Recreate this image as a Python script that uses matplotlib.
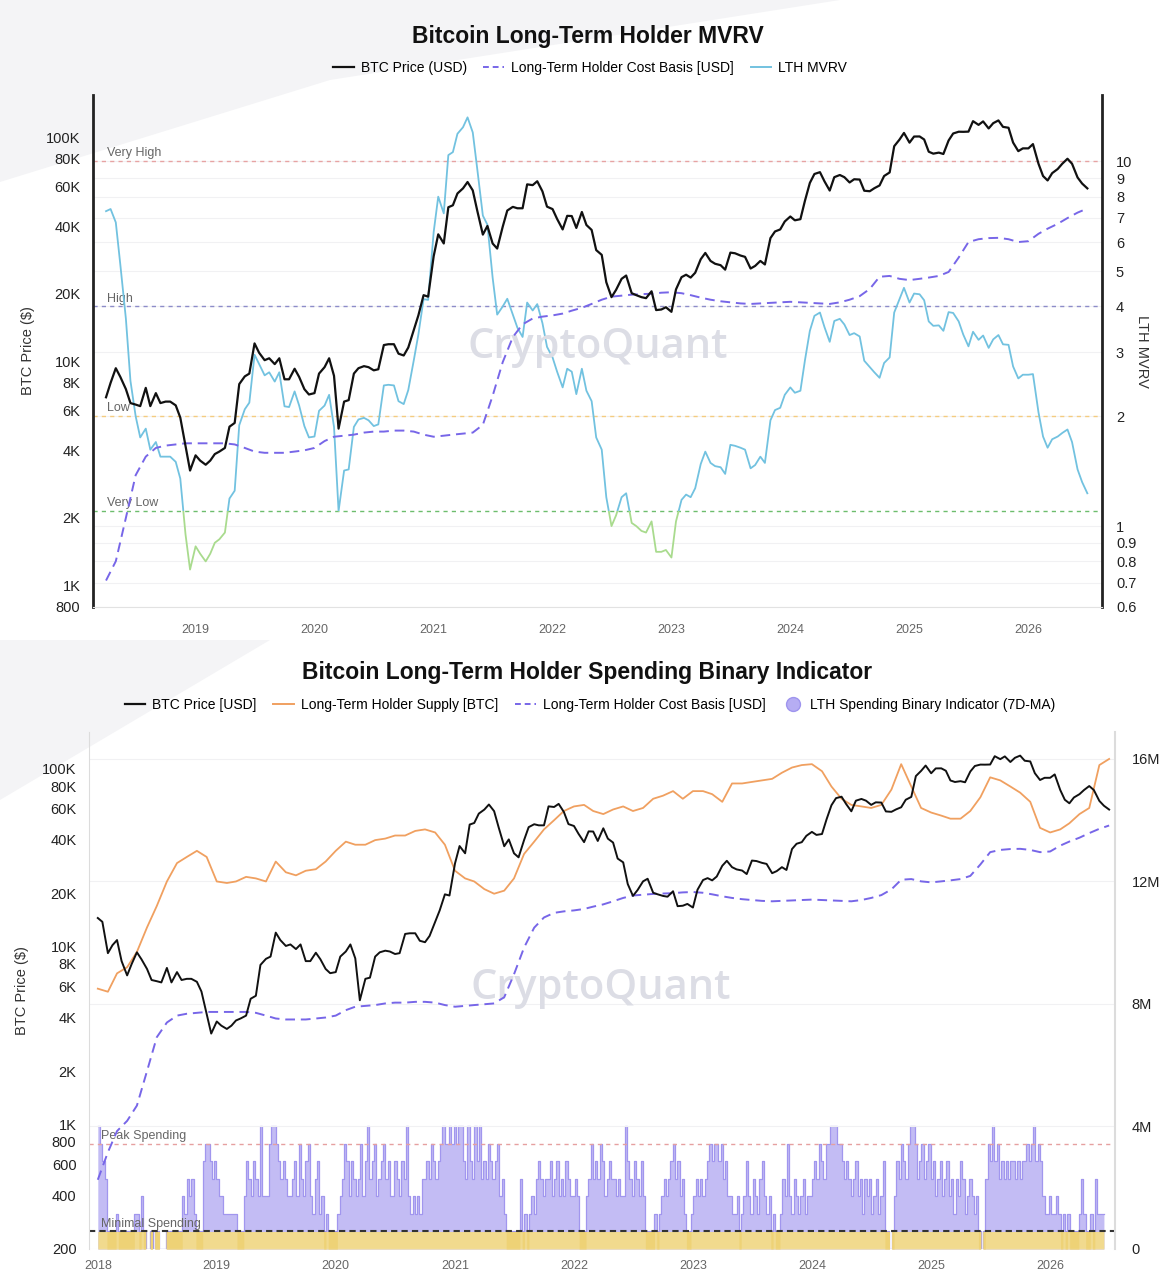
import matplotlib

matplotlib.use('Agg')
import matplotlib.pyplot as plt
import matplotlib.dates as mdates
from matplotlib.lines import Line2D
from matplotlib.patches import Rectangle, Polygon
from matplotlib.ticker import FixedLocator, FuncFormatter, NullLocator
import numpy as np
import pandas as pd

plt.rcParams['font.family'] = ['Liberation Sans', 'DejaVu Sans']

# ---------------- data ----------------
# BTC price, 1st and 15th of each month, Jan 2018 .. Jul 2026
btc_price = [
    14500, 13800, 9200, 10200, 10900, 8300, 6900, 8000, 9300, 8500, 7500, 6500,
    6400, 6300, 7600, 6300, 7200, 6500, 6600, 6600, 6350, 5600, 4200, 3250,  # 2018
    3800, 3600, 3450, 3600, 3850, 3950, 4100, 5100, 5300, 7900, 8550, 8800,
    12000, 10900, 10100, 10300, 9700, 10300, 8300, 8300, 9250, 8500, 7500, 7100,  # 2019
    7200, 8800, 9400, 10300, 8600, 5000, 6600, 6700, 8800, 9300, 9500, 9400,
    9100, 9200, 11800, 11900, 11900, 10800, 10600, 11500, 13800, 16000, 19700, 19400,  # 2020
    29400, 36800, 33500, 48600, 49600, 56000, 59000, 63000, 57800, 46800, 36700, 40100,
    33500, 31800, 39800, 47000, 48800, 48100, 48100, 61500, 61000, 63500, 57200, 48900,  # 2021
    47700, 43100, 38700, 44500, 44400, 39300, 46300, 40500, 38500, 31300, 29800, 22500,
    19300, 20800, 23300, 24100, 20100, 19700, 19300, 19100, 20500, 16900, 17000, 17400,  # 2022
    16600, 20900, 23700, 24300, 23600, 24800, 28500, 30400, 28000, 27200, 26800, 25600,
    30500, 30300, 29600, 29200, 25900, 26600, 28000, 27000, 35400, 37900, 38700, 42000,  # 2023
    44200, 42500, 43000, 52000, 62400, 68400, 69700, 63400, 57700, 66200, 67700, 66200,
    62700, 64800, 64600, 57600, 57300, 59100, 60800, 67000, 69500, 91000, 97300, 104300,  # 2024
    94400, 100500, 100600, 97500, 86000, 84300, 85200, 84000, 96500, 103700, 105600, 105500,
    105700, 117700, 113300, 117400, 109200, 115300, 118600, 111000, 110000, 94500, 86500, 89000,  # 2025
    89000, 93000, 76000, 67000, 64000, 69000, 72000, 76000, 80000, 76000, 66000, 62000, 59000,  # 2026
]

# LTH cost basis (USD), 1st of each month, Jan 2018 .. Jul 2026
lth_cost_basis = [
    490, 700, 920, 1050, 1280, 2000, 3100, 3750, 4100, 4200, 4250, 4300,
    4300, 4300, 4300, 4300, 4250, 4100, 3950, 3900, 3900, 3900, 3950, 4000,
    4100, 4400, 4600, 4650, 4700, 4800, 4850, 4850, 4900, 4900, 4850, 4700,
    4600, 4650, 4700, 4750, 4800, 5200, 7000, 9900, 12800, 14600, 15500, 15800,
    16000, 16300, 16800, 17300, 18000, 18800, 19400, 19600, 19800, 19900, 20000, 20200,
    20300, 20100, 19700, 19200, 18800, 18500, 18300, 18100, 18000, 18100, 18200, 18300,
    18400, 18300, 18200, 18100, 18000, 18300, 18800, 19500, 21000, 23800, 24000, 23300,
    23000, 23300, 23600, 24000, 25000, 29000, 34000, 35000, 35400, 35500, 35000, 34000,
    34300, 37000, 39000, 41000, 43500, 46000, 48000,
]

# LTH MVRV, 1st and 15th of each month, Apr 2018 .. Jul 2026
lth_mvrv = [
    7.3, 7.4, 6.8, 5.2, 3.7, 2.5, 2.0, 1.75, 1.85, 1.62, 1.7, 1.55, 1.55, 1.55, 1.5, 1.35, 0.95, 0.76,
    0.88, 0.84, 0.80, 0.84, 0.90, 0.92, 0.96, 1.19, 1.25, 1.89, 2.09, 2.18,
    2.95, 2.78, 2.59, 2.64, 2.49, 2.64, 2.13, 2.12, 2.34, 2.14, 1.88, 1.75,
    1.76, 2.07, 2.14, 2.29, 1.87, 1.1, 1.42, 1.43, 1.87, 1.96, 1.98, 1.95,
    1.88, 1.9, 2.43, 2.44, 2.43, 2.2, 2.16, 2.36, 2.85, 3.35, 4.19, 4.17,
    6.4, 8.0, 7.2, 10.4, 10.6, 11.9, 12.4, 13.2, 12.0, 9.5, 7.1, 6.7,
    4.8, 3.8, 4.0, 4.2, 3.8, 3.5, 3.3, 4.1, 3.9, 4.06, 3.6, 3.1,
    2.9, 2.65, 2.4, 2.7, 2.65, 2.3, 2.7, 2.35, 2.2, 1.75, 1.62, 1.2,
    1.0, 1.07, 1.2, 1.23, 1.02, 1.0, 0.97, 0.96, 1.03, 0.85, 0.85, 0.86,
    0.82, 1.03, 1.18, 1.22, 1.2, 1.27, 1.48, 1.6, 1.49, 1.46, 1.45, 1.39,
    1.67, 1.66, 1.64, 1.62, 1.44, 1.47, 1.55, 1.49, 1.95, 2.08, 2.11, 2.29,
    2.4, 2.32, 2.35, 2.85, 3.43, 3.77, 3.85, 3.51, 3.2, 3.65, 3.7, 3.57,
    3.34, 3.38, 3.31, 2.84, 2.73, 2.64, 2.55, 2.8, 2.9, 3.85, 4.18, 4.5,
    4.1, 4.34, 4.32, 4.16, 3.64, 3.54, 3.55, 3.43, 3.86, 3.84, 3.64, 3.35,
    3.11, 3.41, 3.24, 3.33, 3.08, 3.25, 3.34, 3.15, 3.14, 2.74, 2.54, 2.6,
    2.6, 2.61, 2.05, 1.76, 1.64, 1.73, 1.76, 1.8, 1.84, 1.7, 1.43, 1.32, 1.23,
]

# LTH supply (million BTC), 1st of each month, Jan 2018 .. Jul 2026
lth_supply_m = [
    8.5, 8.4, 9.0, 9.2, 9.7, 10.5, 11.2, 12.0, 12.6, 12.8, 13.0, 12.8,
    12.0, 11.95, 12.0, 12.15, 12.1, 12.0, 12.65, 12.3, 12.2, 12.35, 12.4, 12.65,
    13.0, 13.3, 13.2, 13.2, 13.35, 13.4, 13.5, 13.5, 13.65, 13.7, 13.6, 13.2,
    12.35, 12.1, 12.0, 11.75, 11.6, 11.7, 12.1, 12.9, 13.3, 13.7, 14.0, 14.3,
    14.45, 14.5, 14.3, 14.2, 14.35, 14.45, 14.3, 14.4, 14.7, 14.8, 14.95, 14.7,
    14.95, 14.95, 14.85, 14.6, 15.2, 15.2, 15.25, 15.3, 15.35, 15.55, 15.72, 15.8,
    15.83, 15.6, 15.1, 14.7, 14.5, 14.45, 14.4, 14.5, 15.0, 15.83, 15.1, 14.4,
    14.25, 14.15, 14.05, 14.05, 14.3, 14.75, 15.4, 15.3, 15.1, 14.9, 14.6, 13.75,
    13.6, 13.7, 13.9, 14.2, 14.4, 15.8, 16.0,
]

# LTH spending binary indicator (7D-MA), weekly, in sevenths
spend_2018 = [7, 6, 5, 4, 1, 1, 1, 1, 2, 1, 1, 1, 1, 1, 1, 1, 2, 2, 1, 3, 1, 0, 0, 1, 0, 1,
              1, 0, 0, 0, 1, 1, 1, 1, 1, 1, 1, 3, 2, 4, 3, 4, 2, 1, 1, 1, 5, 6, 6, 5, 4, 5]
spend_2019 = [4, 3, 3, 2, 2, 2, 2, 2, 2, 1, 1, 1, 3, 5, 4, 3, 5, 4, 3, 7, 3, 3, 3, 6, 7, 7,
              6, 5, 4, 5, 4, 3, 3, 4, 5, 3, 6, 4, 3, 5, 6, 3, 2, 4, 5, 2, 3, 1, 2, 1, 1, 1]
spend_2020 = [1, 2, 3, 4, 6, 5, 3, 5, 4, 3, 4, 6, 3, 5, 7, 4, 5, 6, 3, 4, 5, 6, 4, 5, 3, 3,
              5, 4, 3, 5, 4, 7, 3, 2, 3, 2, 3, 2, 4, 4, 5, 4, 6, 5, 4, 5, 6, 7, 6, 6, 7, 6]
spend_2021 = [7, 6, 7, 7, 5, 4, 7, 5, 4, 7, 5, 7, 4, 5, 4, 6, 5, 4, 5, 6, 3, 4, 2, 1, 1, 1,
              1, 1, 1, 4, 1, 2, 1, 2, 3, 2, 4, 5, 4, 3, 4, 4, 5, 3, 4, 5, 3, 4, 3, 5, 4, 3]
spend_2022 = [3, 4, 3, 1, 1, 1, 3, 4, 6, 4, 5, 4, 6, 5, 3, 4, 5, 4, 4, 3, 4, 3, 3, 7, 5, 4,
              3, 5, 4, 3, 5, 3, 1, 1, 1, 1, 2, 1, 2, 3, 4, 3, 4, 5, 6, 4, 5, 3, 4, 2, 1, 1]
spend_2023 = [2, 3, 4, 3, 4, 3, 4, 5, 6, 5, 6, 6, 5, 6, 4, 5, 3, 3, 2, 2, 3, 1, 2, 3, 5, 3,
              2, 4, 3, 2, 4, 5, 3, 2, 3, 1, 2, 1, 1, 2, 4, 3, 6, 3, 2, 4, 3, 2, 3, 4, 2, 3]
spend_2024 = [3, 4, 5, 4, 6, 5, 4, 6, 6, 7, 7, 7, 6, 6, 5, 4, 5, 4, 3, 4, 5, 3, 4, 2, 4, 3,
              4, 2, 3, 4, 2, 3, 5, 1, 1, 0, 1, 3, 5, 4, 6, 5, 4, 6, 7, 7, 6, 4, 5, 6, 4, 5]
spend_2025 = [6, 4, 5, 3, 4, 5, 3, 4, 5, 3, 4, 2, 4, 3, 5, 4, 2, 3, 4, 3, 2, 3, 1, 0, 1, 4,
              6, 5, 7, 5, 6, 4, 5, 4, 5, 4, 5, 5, 4, 5, 4, 5, 5, 6, 5, 6, 7, 5, 6, 5, 3, 2]
spend_2026 = [2, 3, 2, 2, 3, 2, 1, 2, 1, 2, 1, 1, 1, 1, 2, 4, 2, 1, 1, 2, 1, 4, 2, 2, 2]

# threshold levels
mvrv_levels = [(10, 'Very High', '#e7a3a3'), (4, 'High', '#8d8cc9'),
               (2, 'Low', '#f4cc80'), (1.1, 'Very Low', '#6dbd6d')]
peak_spending = 0.86
minimal_spending = 1 / 7

left_ticks_top = [800, 1000, 2000, 4000, 6000, 8000, 10000, 20000, 40000, 60000, 80000, 100000]
left_labels_top = ['800', '1K', '2K', '4K', '6K', '8K', '10K', '20K', '40K', '60K', '80K', '100K']
right_ticks_top = [0.6, 0.7, 0.8, 0.9, 1, 2, 3, 4, 5, 6, 7, 8, 9, 10]
right_labels_top = ['0.6', '0.7', '0.8', '0.9', '1', '2', '3', '4', '5', '6', '7', '8', '9', '10']
left_ticks_bot = [200, 400, 600, 800, 1000, 2000, 4000, 6000, 8000, 10000, 20000, 40000,
                  60000, 80000, 100000]
left_labels_bot = ['200', '400', '600', '800', '1K', '2K', '4K', '6K', '8K', '10K', '20K',
                   '40K', '60K', '80K', '100K']
right_ticks_bot = [0, 4e6, 8e6, 12e6, 16e6]
right_labels_bot = ['0', '4M', '8M', '12M', '16M']

# ---------------- series ----------------
price_dates = pd.date_range('2018-01-01', periods=len(btc_price), freq='SMS')
cost_dates = pd.date_range('2018-01-01', periods=len(lth_cost_basis), freq='MS')
mvrv_dates = pd.date_range('2018-04-01', periods=len(lth_mvrv), freq='SMS')
supply_dates = pd.date_range('2018-01-01', periods=len(lth_supply_m), freq='MS')
spending = np.array(spend_2018 + spend_2019 + spend_2020 + spend_2021 + spend_2022 +
                    spend_2023 + spend_2024 + spend_2025 + spend_2026)
spend_dates = pd.date_range('2018-01-01', periods=len(spending) + 1, freq='7D')

price = pd.Series(btc_price, index=price_dates)
cost = pd.Series(lth_cost_basis, index=cost_dates)

BLACK = '#111111'
PURPLE = '#7766e8'
BLUE = '#72c2e0'
GREEN = '#a9db8e'
ORANGE = '#f0a060'
WATERMARK = dict(ha='center', va='center', fontsize=30, color='#dcdde5', zorder=1,
                 family=['Open Sans', 'DejaVu Sans'], fontweight='semibold')

W, H = 1172, 1280


def box(left, top, right, bottom):
    return [left / W, 1 - bottom / H, (right - left) / W, (bottom - top) / H]


def fixed_ticks(axis, values, labels):
    lookup = dict(zip(values, labels))
    axis.set_major_locator(FixedLocator(values))
    axis.set_major_formatter(FuncFormatter(lambda v, pos: lookup.get(v, '')))
    axis.set_minor_locator(NullLocator())


fig = plt.figure(figsize=(W / 100, H / 100), dpi=100)
fig.patch.set_facecolor('white')
# faint grey screenshot shapes behind the charts
for pts in ([(0, 0), (840, 0), (330, 80), (0, 182)], [(0, 640), (270, 640), (0, 800)]):
    fig.patches.append(Polygon([(x / W, 1 - y / H) for x, y in pts], closed=True,
                               transform=fig.transFigure, facecolor='#f4f4f6',
                               edgecolor='none', zorder=-5))

# ================= top chart: LTH MVRV =================
ax1 = fig.add_axes(box(93, 95, 1102, 607))
ax1r = ax1.twinx()
ax1r.set_zorder(ax1.get_zorder() - 1)
ax1.patch.set_visible(False)

ax1.set_xlim(pd.Timestamp('2018-02-20'), pd.Timestamp('2026-08-15'))
ax1.set_yscale('log')
ax1.set_ylim(800, 154000)
ax1r.set_yscale('log')
ax1r.set_ylim(0.6, 15.2)

top_price = price[price.index >= '2018-04-01']
top_cost = cost[cost.index >= '2018-04-01']
ax1.plot(top_price.index, top_price.values, color=BLACK, lw=1.6, zorder=4)
ax1.plot(top_cost.index, top_cost.values, color=PURPLE, lw=1.4, dashes=(5, 3), zorder=3)

# MVRV: blue above the "Very Low" level, green below it
xmin, xmax = ax1.get_xlim()
very_low = mvrv_levels[-1][0]
hi_line, = ax1r.plot(mvrv_dates, lth_mvrv, color=BLUE, lw=1.3, zorder=3)
lo_line, = ax1r.plot(mvrv_dates, lth_mvrv, color=GREEN, lw=1.3, zorder=3)
hi_line.set_clip_path(Rectangle((xmin, very_low), xmax - xmin, 100, transform=ax1r.transData))
lo_line.set_clip_path(Rectangle((xmin, 0.1), xmax - xmin, very_low - 0.1, transform=ax1r.transData))

for value, name, colour in mvrv_levels:
    ax1r.axhline(value, color=colour, lw=1.0, dashes=(3, 3), zorder=2)
    ax1r.text(pd.Timestamp('2018-04-05'), value * 1.012, name, fontsize=9, color='#666666',
              va='bottom', ha='left', zorder=2)

ax1.text(0.5, 0.508, 'CryptoQuant', transform=ax1.transAxes, **WATERMARK)

fixed_ticks(ax1.yaxis, left_ticks_top, left_labels_top)
fixed_ticks(ax1r.yaxis, right_ticks_top, right_labels_top)
ax1r.grid(True, axis='y', color='#f1f1f3', lw=0.8)
ax1.tick_params(axis='y', length=0, pad=9, labelsize=10.5, labelcolor='#222222')
ax1r.tick_params(axis='y', length=0, pad=10, labelsize=10.5, labelcolor='#222222')
ax1.xaxis.set_major_locator(mdates.YearLocator())
ax1.xaxis.set_major_formatter(mdates.DateFormatter('%Y'))
ax1.tick_params(axis='x', length=0, pad=12, labelsize=9, labelcolor='#666666')

for a in (ax1, ax1r):
    a.spines['top'].set_visible(False)
ax1.spines['right'].set_visible(False)
ax1r.spines['left'].set_visible(False)
ax1r.spines['bottom'].set_visible(False)
ax1.spines['left'].set_color('#222222')
ax1.spines['left'].set_linewidth(2)
ax1r.spines['right'].set_color('#222222')
ax1r.spines['right'].set_linewidth(2)
ax1.spines['bottom'].set_color('#e2e2e2')

ax1.set_ylabel('BTC Price ($)', fontsize=10.5, color='#333333')
ax1.yaxis.set_label_coords(-0.0575, 0.5)
ax1r.set_ylabel('LTH MVRV', fontsize=10.5, color='#333333', rotation=270, va='bottom')
ax1r.yaxis.set_label_coords(1.033, 0.5)

fig.text(588 / W, 1 - 36 / H, 'Bitcoin Long-Term Holder MVRV', ha='center', va='center',
         fontsize=16.5, fontweight='bold', color='#111111')
top_handles = [Line2D([], [], color=BLACK, lw=1.6),
               Line2D([], [], color=PURPLE, lw=1.4, dashes=(3, 2)),
               Line2D([], [], color=BLUE, lw=1.4)]
fig.legend(top_handles, ['BTC Price (USD)', 'Long-Term Holder Cost Basis [USD]', 'LTH MVRV'],
           loc='center', bbox_to_anchor=(590 / W, 1 - 68 / H), ncol=3, frameon=False,
           fontsize=10, handlelength=1.5, handletextpad=0.5, columnspacing=1.2)

# ================= bottom chart: spending indicator =================
ax2 = fig.add_axes(box(89, 732, 1115, 1249))
ax2s = ax2.twinx()
ax2r = ax2.twinx()
ax2s.set_zorder(ax2.get_zorder() - 2)
ax2r.set_zorder(ax2.get_zorder() - 1)
ax2.patch.set_visible(False)

ax2.set_xlim(pd.Timestamp('2017-12-05'), pd.Timestamp('2026-07-19'))
ax2.set_yscale('log')
ax2.set_ylim(200, 161000)
supply_top = 16.88e6
ax2r.set_ylim(0, supply_top)
ax2s.set_ylim(0, supply_top / 4e6)

# spending bars (step area), yellow base band up to the minimal level
levels = np.append(spending, spending[-1]) / 7
ax2s.fill_between(spend_dates, 0, levels, step='post', color='#c3bcf4', lw=0, zorder=1)
ax2s.step(spend_dates, levels, where='post', color='#a196ee', lw=0.9, zorder=2)
base = np.minimum(levels, minimal_spending)
ax2s.fill_between(spend_dates, 0, base, step='post', color='#f1da8e', lw=0, zorder=3)
only_min = np.where(np.append(spending, spending[-1]) == 1, minimal_spending, 0)
ax2s.fill_between(spend_dates, 0, only_min, step='post', color='#eed276', lw=0, zorder=3)
ax2s.axhline(peak_spending, color='#e6a0a0', lw=1.0, dashes=(3, 3), zorder=4)
ax2s.axhline(minimal_spending, color='#333333', lw=1.5, dashes=(3, 2), zorder=4)
ax2s.text(pd.Timestamp('2018-01-12'), peak_spending + 0.01, 'Peak Spending', fontsize=9,
          color='#666666', va='bottom', zorder=5)
ax2s.text(pd.Timestamp('2018-01-12'), minimal_spending + 0.01, 'Minimal Spending', fontsize=9,
          color='#666666', va='bottom', zorder=5)
ax2s.set_yticks([])
for s in ax2s.spines.values():
    s.set_visible(False)

ax2r.plot(supply_dates, np.array(lth_supply_m) * 1e6, color=ORANGE, lw=1.3, zorder=3)
ax2.plot(price.index, price.values, color=BLACK, lw=1.4, zorder=4)
ax2.plot(cost.index, cost.values, color=PURPLE, lw=1.4, dashes=(5, 3), zorder=3)
ax2.text(0.499, 0.505, 'CryptoQuant', transform=ax2.transAxes, **WATERMARK)

fixed_ticks(ax2.yaxis, left_ticks_bot, left_labels_bot)
fixed_ticks(ax2r.yaxis, right_ticks_bot, right_labels_bot)
ax2r.grid(True, axis='y', color='#f1f1f3', lw=0.8)
ax2.tick_params(axis='y', length=0, pad=9, labelsize=10.5, labelcolor='#222222')
ax2r.tick_params(axis='y', length=0, pad=12, labelsize=10.5, labelcolor='#222222')
ax2.xaxis.set_major_locator(mdates.YearLocator())
ax2.xaxis.set_major_formatter(mdates.DateFormatter('%Y'))
ax2.tick_params(axis='x', length=0, pad=8, labelsize=9, labelcolor='#666666')

for a in (ax2, ax2r):
    a.spines['top'].set_visible(False)
    a.spines['bottom'].set_visible(False)
ax2.spines['right'].set_visible(False)
ax2r.spines['left'].set_visible(False)
ax2.spines['left'].set_color('#dcdcdc')
ax2r.spines['right'].set_color('#dcdcdc')
ax2r.spines['right'].set_linewidth(1.5)

ax2.set_ylabel('BTC Price ($)', fontsize=10.5, color='#333333')
ax2.yaxis.set_label_coords(-0.058, 0.5)

fig.text(587 / W, 1 - 673 / H, 'Bitcoin Long-Term Holder Spending Binary Indicator',
         ha='center', va='center', fontsize=16.5, fontweight='bold', color='#111111')
bot_handles = [Line2D([], [], color=BLACK, lw=1.6),
               Line2D([], [], color=ORANGE, lw=1.4),
               Line2D([], [], color=PURPLE, lw=1.4, dashes=(3, 2)),
               Line2D([], [], ls='none', marker='o', markersize=10, markerfacecolor='#b6adf3',
                      markeredgecolor='#9f95ee')]
fig.legend(bot_handles, ['BTC Price [USD]', 'Long-Term Holder Supply [BTC]',
                         'Long-Term Holder Cost Basis [USD]',
                         'LTH Spending Binary Indicator (7D-MA)'],
           loc='center', bbox_to_anchor=(590 / W, 1 - 705 / H), ncol=4, frameon=False,
           fontsize=10, handlelength=1.5, handletextpad=0.5, columnspacing=1.2)

fig.savefig('out.png', dpi=100)
